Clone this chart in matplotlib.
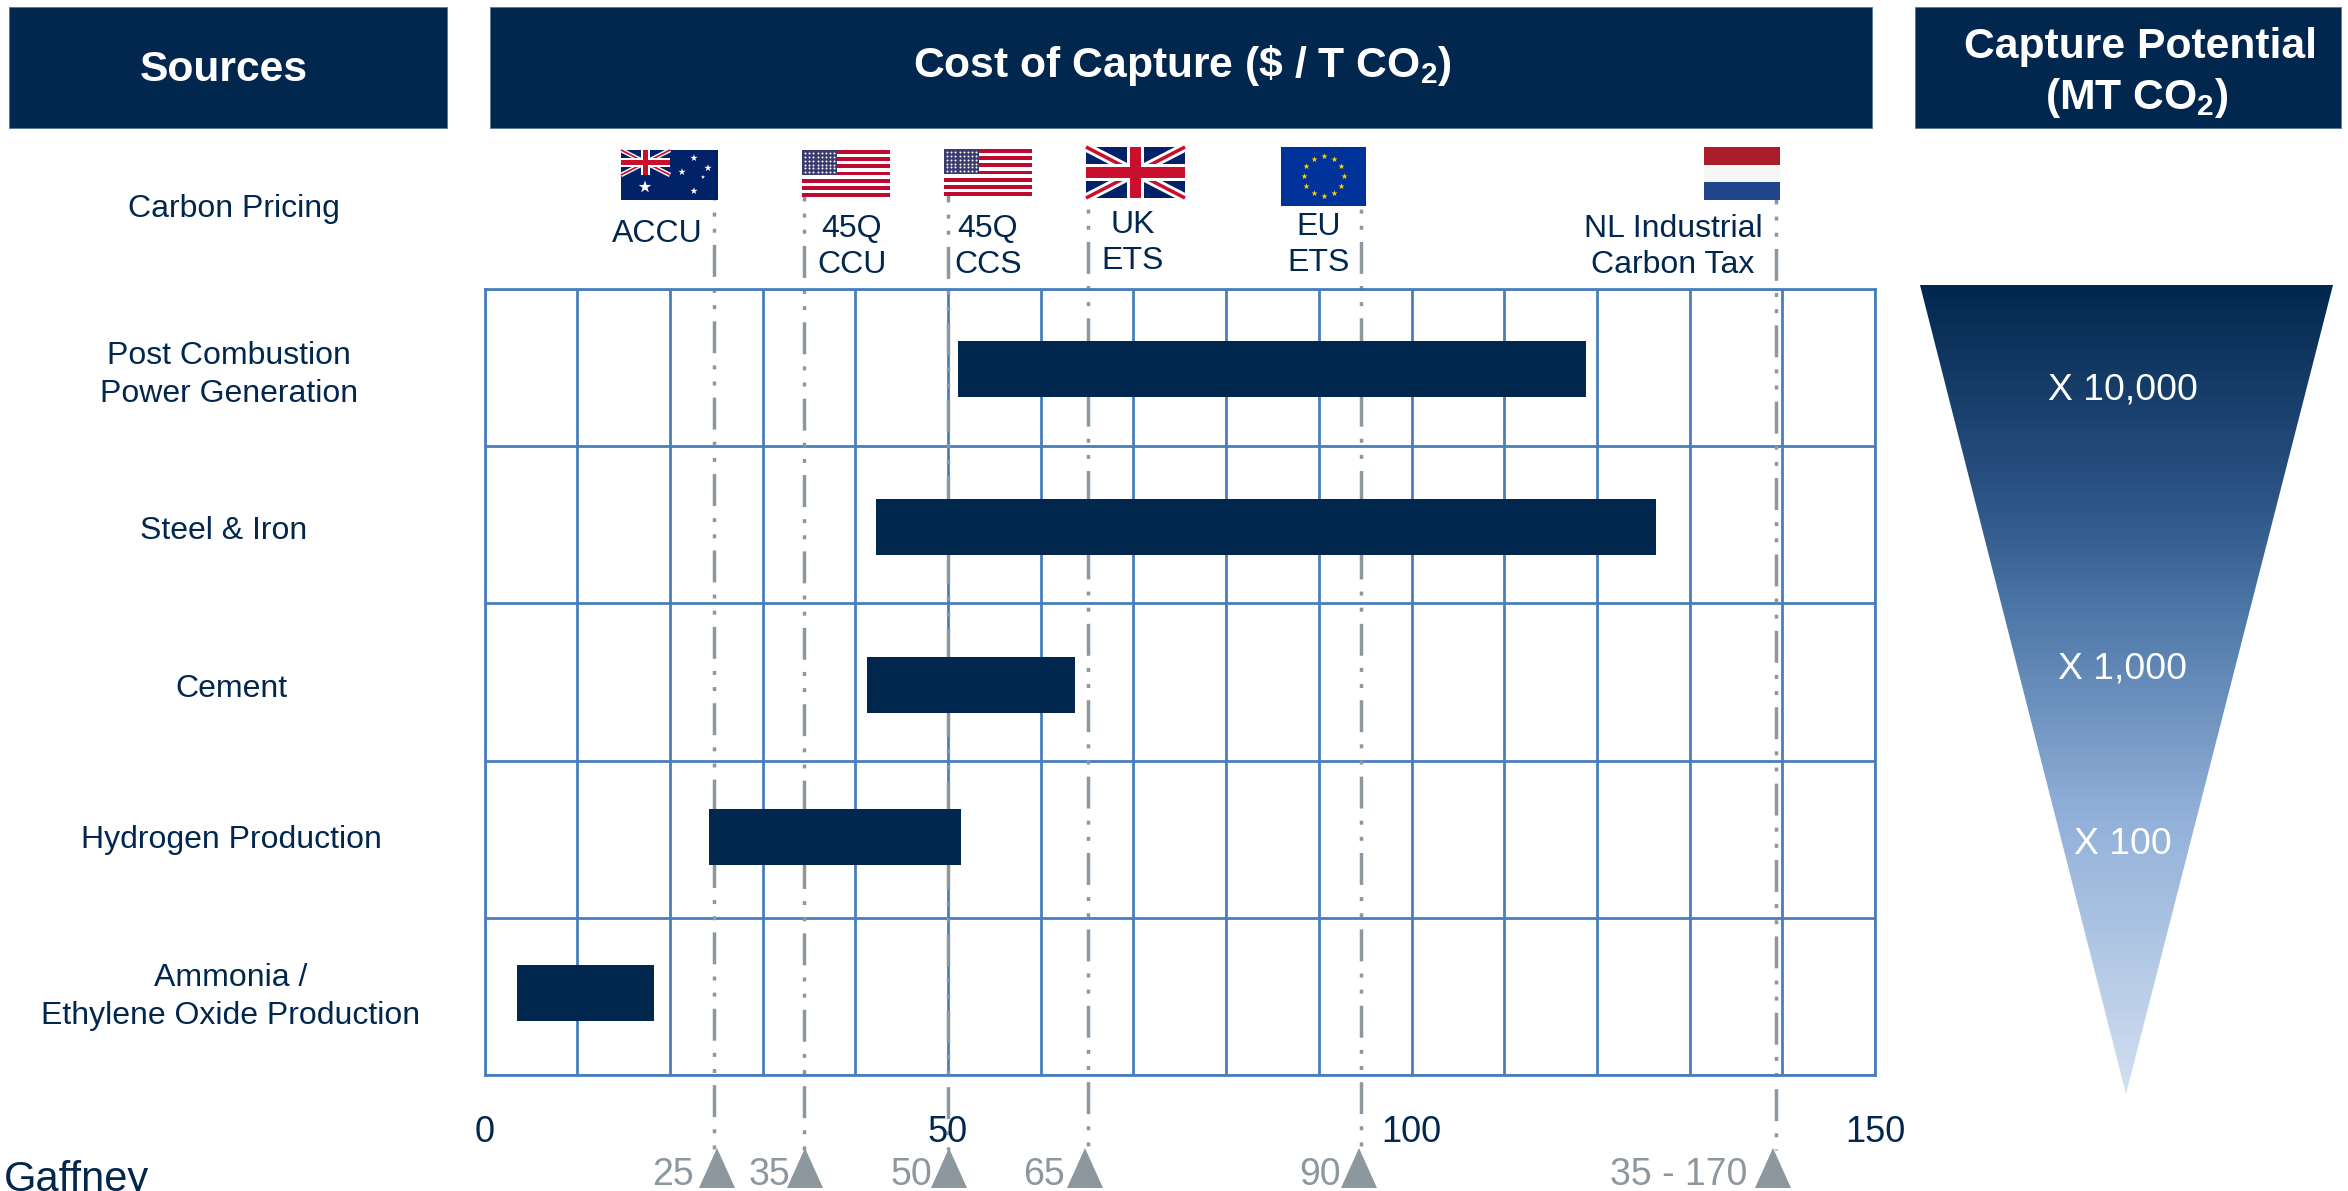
import numpy as np
import matplotlib
matplotlib.use('Agg')
import matplotlib.pyplot as plt
from matplotlib.patches import Rectangle, Polygon
from matplotlib.colors import LinearSegmentedColormap

plt.rcParams['font.family'] = ['Liberation Sans', 'DejaVu Sans']
plt.rcParams['mathtext.fontset'] = 'custom'
plt.rcParams['mathtext.rm'] = 'Liberation Sans'
plt.rcParams['mathtext.bf'] = 'Liberation Sans:bold'

# data
sources = ['Post Combustion\nPower Generation', 'Steel & Iron', 'Cement',
           'Hydrogen Production', 'Ammonia /\nEthylene Oxide Production']
cost_low = [51.1, 42.2, 41.3, 24.2, 3.5]
cost_high = [118.8, 126.4, 63.7, 51.4, 18.3]
bar_rows = [0.51, 1.514, 2.519, 3.486, 4.48]
x_ticks = [0, 50, 100, 150]

price_names = ['ACCU', '45Q\nCCU', '45Q\nCCS', 'UK\nETS', 'EU\nETS', 'NL Industrial\nCarbon Tax']
price_pos = [24.8, 34.5, 50.0, 65.1, 94.6, 139.3]
price_labels = ['25', '35', '50', '65', '90', '35 - 170']
potential_labels = ['X 10,000', 'X 1,000', 'X 100']

NAVY = '#02274f'
GRID = '#4a7ebb'
GREY = '#8c979e'
W, H = 2348, 1191
TOP, BOTTOM = 289, 1075

fig = plt.figure(figsize=(W / 100, H / 100), dpi=100, facecolor='white')

# overlay in pixels, y going down
px = fig.add_axes([0, 0, 1, 1], zorder=3)
px.set_xlim(0, W)
px.set_ylim(H, 0)
px.axis('off')
px.patch.set_alpha(0)

# main grid
ax = fig.add_axes([484.5 / W, 1 - BOTTOM / H, (1875 - 484.5) / W, (BOTTOM - TOP) / H], zorder=1)
ax.set_xlim(0, 150)
ax.set_ylim(5, 0)
ax.set_xticks(np.arange(0, 151, 10))
ax.set_yticks(np.arange(0, 6))
ax.grid(True, color=GRID, lw=2.0, zorder=0.5)
ax.tick_params(length=0, labelbottom=False, labelleft=False)
ax.set_axisbelow(True)
for s in ax.spines.values():
    s.set_color(GRID)
    s.set_linewidth(2.0)

ax.barh(bar_rows, np.array(cost_high) - np.array(cost_low), left=cost_low,
        height=0.355, color=NAVY, zorder=3)


def to_px(v):
    return 484.5 + v * (1875 - 484.5) / 150


def row_of(y):
    return (y - TOP) * 5 / (BOTTOM - TOP)


# price lines sit behind the bars, the flags hide their tops
line_tops = [168, 169, 170, 165, 165, 172]
for p, top in zip(price_pos, line_tops):
    ax.plot([p, p], [row_of(top), row_of(1150)], color=GREY, lw=2.5, clip_on=False,
            dashes=(9.2, 3.5, 1.15, 3.5, 1.15, 3.5), zorder=2)

# headers
for x0, x1, y0, y1 in [(9, 447, 7, 128), (490, 1872, 7, 128), (1915, 2341, 7, 128)]:
    px.add_patch(Rectangle((x0, y0), x1 - x0, y1 - y0, fc=NAVY, ec='#5d7a99', lw=0.7))
px.text(224, 70, 'Sources', color='white', fontsize=30.7, fontweight='bold', ha='center', va='center')
px.text(1182, 65, r'Cost of Capture (\$ / T CO$_{\mathbf{2}}$)', color='white', fontsize=30.7,
        fontweight='bold', ha='center', va='center')
px.text(2140, 47, 'Capture Potential', color='white', fontsize=30.7, fontweight='bold', ha='center', va='center')
px.text(2137, 98, r'(MT CO$_{\mathbf{2}}$)', color='white', fontsize=30.7, fontweight='bold', ha='center', va='center')

# row labels
px.text(234, 209, 'Carbon Pricing', color=NAVY, fontsize=23, ha='center', va='center')
label_x = [229, 224, 231, 231, 231]
label_y = [375, 531, 689, 840, 997]
for name, lx, ly in zip(sources, label_x, label_y):
    px.text(lx, ly, name, color=NAVY, fontsize=23, ha='center', va='center', linespacing=1.35)

name_x = [657, 852, 988, 1133, 1319, 1673]
name_y = [234, 247, 247, 243, 245, 247]
for name, nx, ny in zip(price_names, name_x, name_y):
    px.text(nx, ny, name, color=NAVY, fontsize=23, ha='center', va='center', linespacing=1.3, zorder=5)

# axis numbers
for t in x_ticks:
    px.text(to_px(t), 1133, str(t), color=NAVY, fontsize=26, ha='center', va='center', zorder=5)

# triangles and price labels
tri_x = [717, 805, 949, 1085, 1359, 1773]
lab_x = [694, 790, 932, 1065, 1341, 1747]
for tx, lx, lab in zip(tri_x, lab_x, price_labels):
    px.add_patch(Polygon([(tx - 18, 1188), (tx, 1148), (tx + 18, 1188)], fc=GREY, ec='none', zorder=6))
    px.text(lx, 1175, lab, color=GREY, fontsize=27, ha='right', va='center', zorder=6)

px.text(4, 1180, 'Gaffney', color=NAVY, fontsize=30, ha='left', va='center', clip_on=True)

# funnel
cmap = LinearSegmentedColormap.from_list('f', [(0, '#02274f'), (0.266, '#2d5586'), (0.39, '#4c76a6'),
                                               (0.637, '#90afd8'), (1, '#d6e2f2')])
grad = np.linspace(0, 1, 256).reshape(-1, 1)
im = px.imshow(grad, extent=(1920, 2333, 1110, 285), cmap=cmap, aspect='auto', zorder=2)
im.set_clip_path(Polygon([(1920, 285), (2333, 285), (2126, 1094)], transform=px.transData))
px.set_xlim(0, W)
px.set_ylim(H, 0)
for lab, yy in zip(potential_labels, [390, 669, 844]):
    px.text(2123, yy, lab, color='white', fontsize=26.8, ha='center', va='center', zorder=5)


# flags
def flag_us(x, y, w, h):
    red = '#bf0a30'
    px.add_patch(Rectangle((x, y), w, h, fc='white', ec='none', zorder=5))
    for i in range(0, 13, 2):
        px.add_patch(Rectangle((x, y + i * h / 13), w, h / 13, fc=red, ec='none', zorder=5))
    px.add_patch(Rectangle((x, y), w * 0.4, h * 7 / 13, fc='#3c3b6e', ec='none', zorder=6))
    gx, gy = np.meshgrid(np.linspace(x + 3, x + w * 0.4 - 3, 8), np.linspace(y + 3, y + h * 7 / 13 - 3, 6))
    px.scatter(gx.ravel(), gy.ravel(), s=2, color='white', zorder=7, lw=0)


def union(x, y, w, h, z=5):
    px.add_patch(Rectangle((x, y), w, h, fc='#012169', ec='none', zorder=z))
    for a, b in [((x, y), (x + w, y + h)), ((x, y + h), (x + w, y))]:
        px.plot([a[0], b[0]], [a[1], b[1]], color='white', lw=h * 0.13, zorder=z, solid_capstyle='butt')
        px.plot([a[0], b[0]], [a[1], b[1]], color='#c8102e', lw=h * 0.05, zorder=z, solid_capstyle='butt')
    px.add_patch(Rectangle((x, y + h * 0.33), w, h * 0.34, fc='white', ec='none', zorder=z))
    px.add_patch(Rectangle((x + w / 2 - h * 0.17, y), h * 0.34, h, fc='white', ec='none', zorder=z))
    px.add_patch(Rectangle((x, y + h * 0.4), w, h * 0.2, fc='#c8102e', ec='none', zorder=z))
    px.add_patch(Rectangle((x + w / 2 - h * 0.1, y), h * 0.2, h, fc='#c8102e', ec='none', zorder=z))


# Australia
px.add_patch(Rectangle((621, 150), 97, 50, fc='#012169', ec='none', zorder=5))
union(621, 150, 49, 25, z=6)
px.scatter([645, 694, 694, 708, 682, 703], [187, 191, 158, 168, 172, 177],
           s=[90, 30, 30, 30, 30, 10], marker='*', color='white', zorder=7, lw=0)

flag_us(802, 150, 88, 47)
flag_us(944, 149, 88, 47)
union(1086, 147, 99, 51)

# EU
px.add_patch(Rectangle((1281, 147), 85, 59, fc='#003399', ec='none', zorder=5))
ang = np.arange(12) * np.pi / 6
px.scatter(1323.5 + 20 * np.cos(ang), 176 + 20 * np.sin(ang), s=22, marker='*', color='#ffcc00', zorder=6, lw=0)

# NL
for i, c in enumerate(['#a91d2a', '#f6f6f6', '#21468b']):
    px.add_patch(Rectangle((1704, 147 + i * 17.7), 76, 17.7, fc=c, ec='none', zorder=5))

fig.savefig('out.png', dpi=100)
